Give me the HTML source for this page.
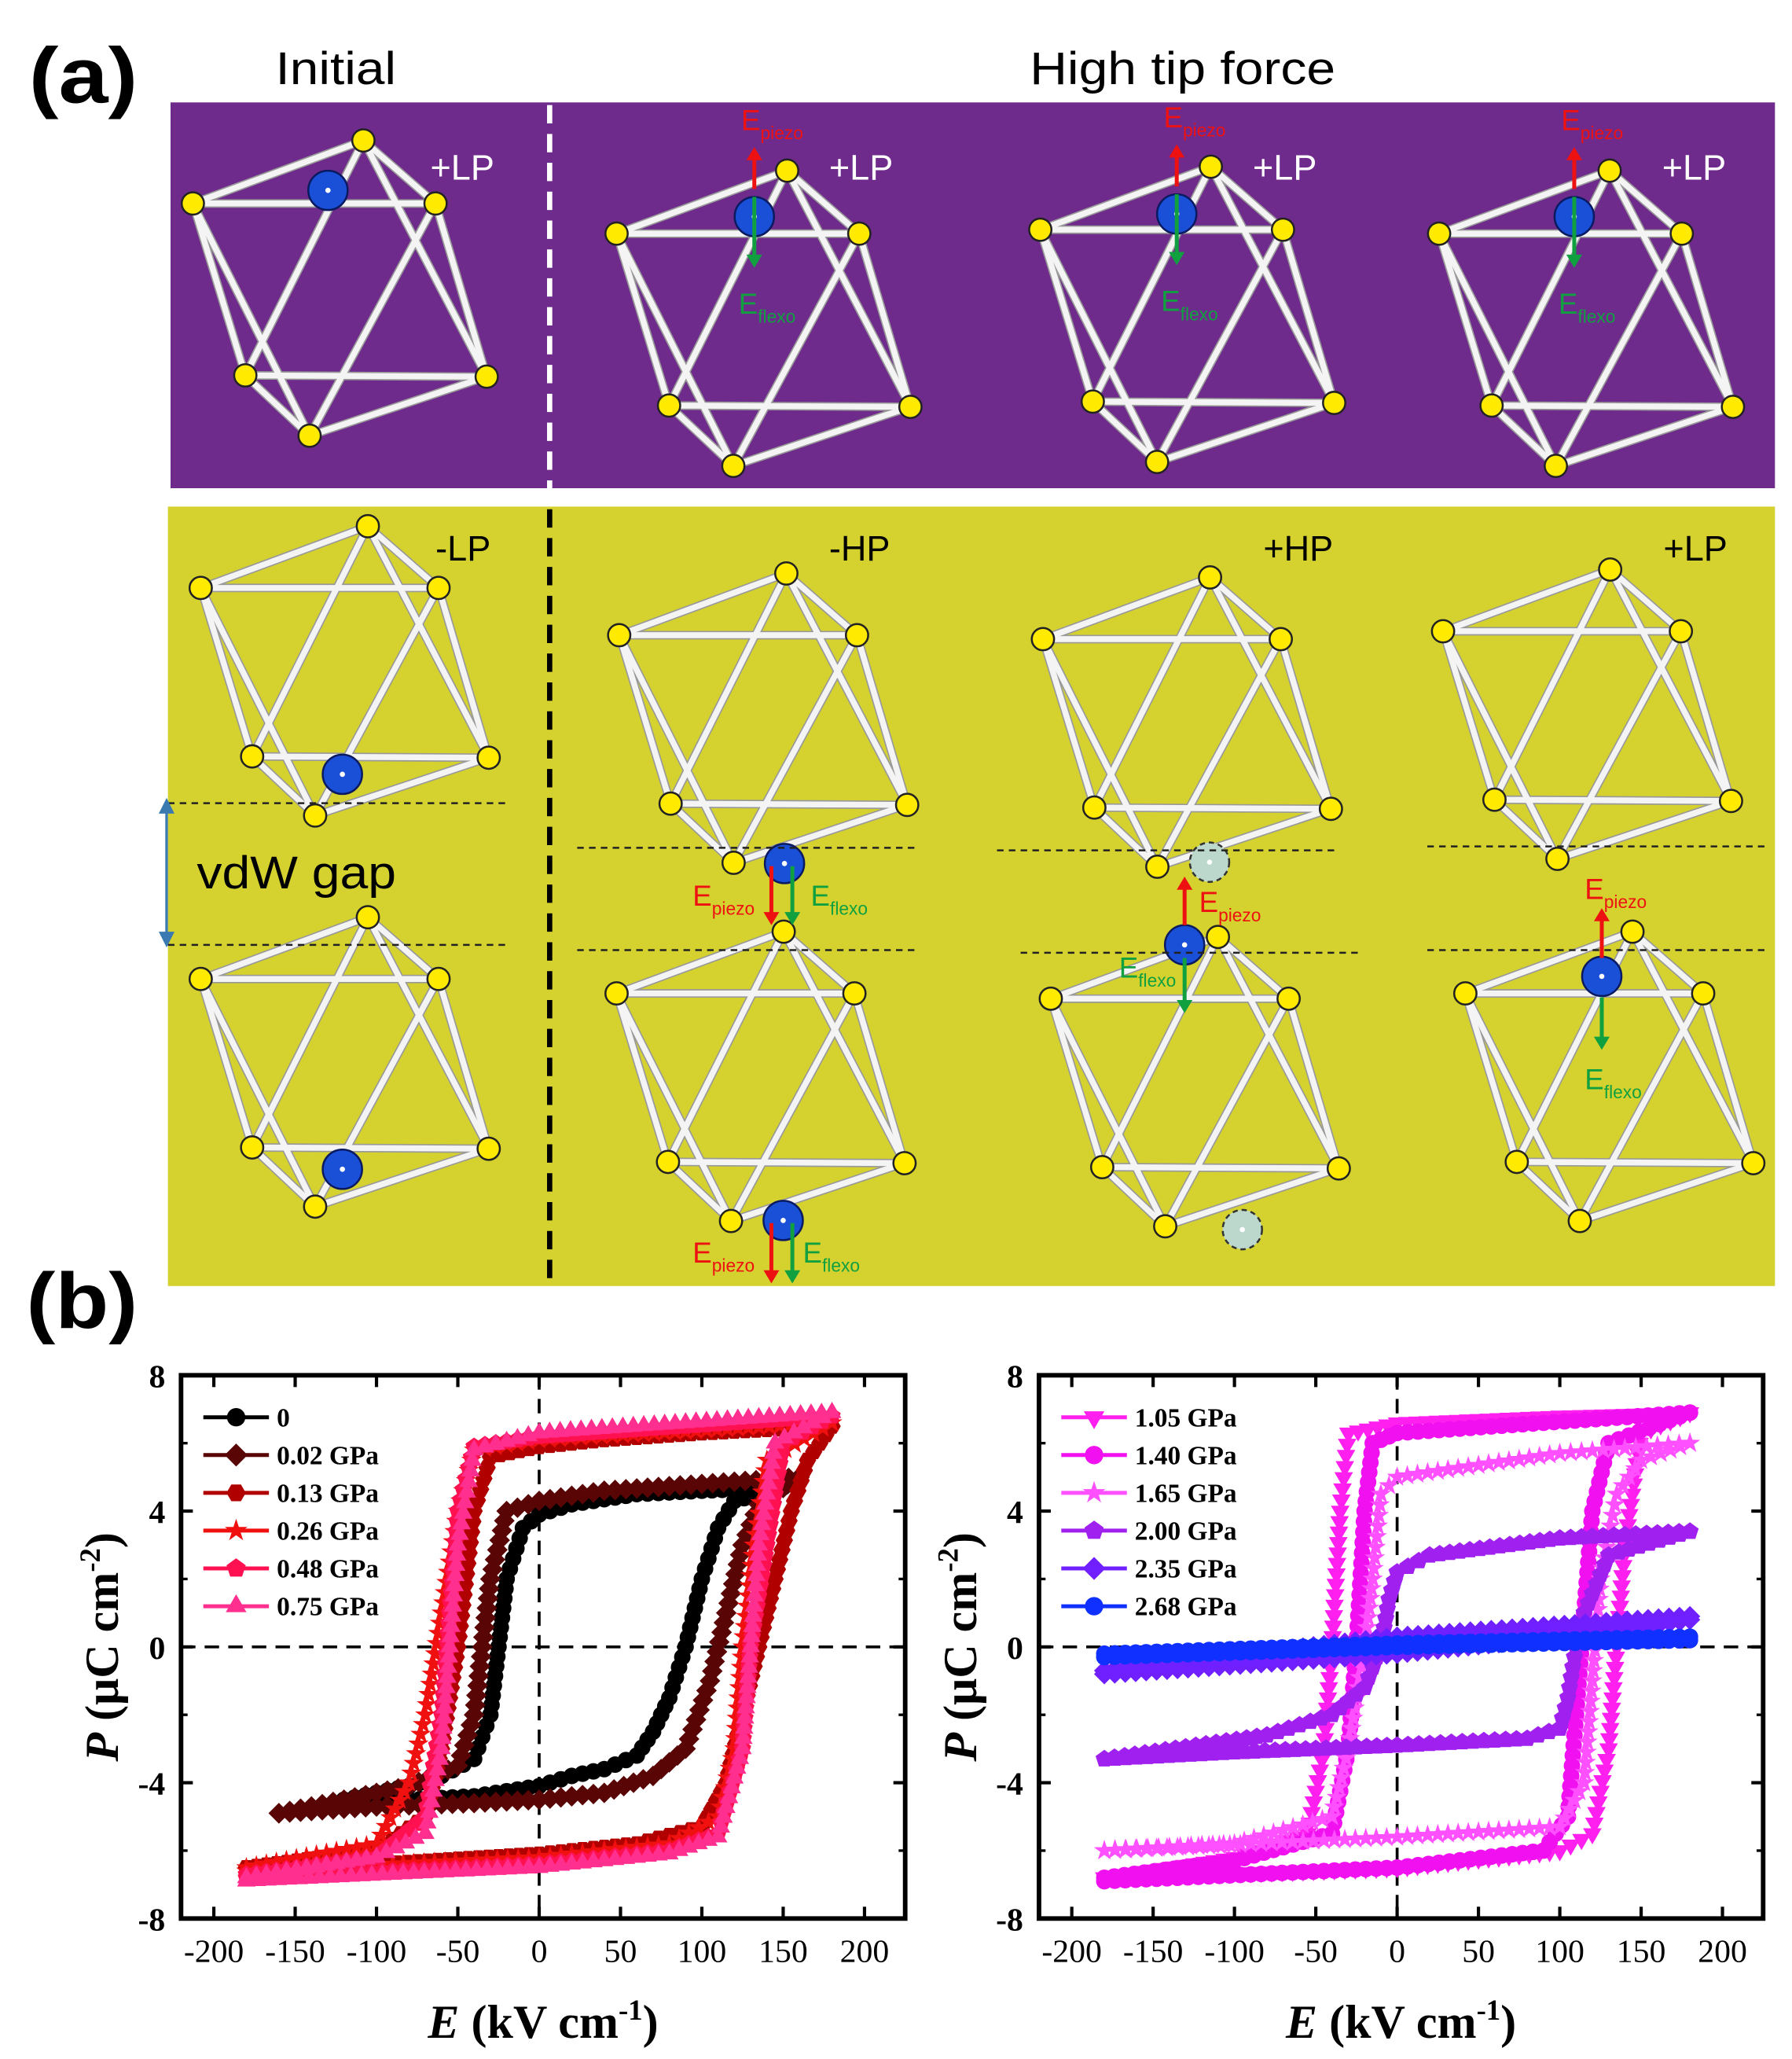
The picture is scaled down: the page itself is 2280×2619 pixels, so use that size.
<!DOCTYPE html>
<html><head><meta charset="utf-8"><style>
html,body{margin:0;padding:0;background:#fff}
svg{display:block}
</style></head><body>
<svg id="fig" width="2280" height="2619" viewBox="0 0 1366 1569" xmlns="http://www.w3.org/2000/svg">
<rect width="1366" height="1569" fill="#fff"/>
<g id="panelA">
<text x="22" y="78" font-family="Liberation Sans, sans-serif" font-weight="bold" font-size="60" textLength="83" lengthAdjust="spacingAndGlyphs">(a)</text>
<text x="210" y="64" font-family="Liberation Sans, sans-serif" font-size="35" textLength="92" lengthAdjust="spacingAndGlyphs">Initial</text>
<text x="785" y="64" font-family="Liberation Sans, sans-serif" font-size="35" textLength="233" lengthAdjust="spacingAndGlyphs">High tip force</text>
<rect x="130" y="78" width="1223" height="294" fill="#6e2b8c"/>
<rect x="128" y="386" width="1225" height="594" fill="#d5d22f"/>
<line x1="419" y1="80" x2="419" y2="372" stroke="#fff" stroke-width="4" stroke-dasharray="14,8"/>
<line x1="419" y1="388" x2="419" y2="980" stroke="#000" stroke-width="4" stroke-dasharray="14,8"/>
</g>
<g id="panelB">
<text x="20" y="1012" font-family="Liberation Sans, sans-serif" font-weight="bold" font-size="60" textLength="85" lengthAdjust="spacingAndGlyphs">(b)</text>
</g>
</svg>
<script>
// ---------- Chart data ----------
const xTicks = [-200,-150,-100,-50,0,50,100,150,200];
const yTicks = [8,4,0,-4,-8];
const leftNames = ["0","0.02 GPa","0.13 GPa","0.26 GPa","0.48 GPa","0.75 GPa"];
const rightNames = ["1.05 GPa","1.40 GPa","1.65 GPa","2.00 GPa","2.35 GPa","2.68 GPa"];
const L0_eUp=[150,100,60,20,0,-10,-20,-25,-30,-40,-60,-80,-100,-120];
const L0_pUp=[4.7,4.6,4.5,4.2,3.9,3.5,2.0,0,-2.0,-3.3,-3.8,-4.1,-4.3,-4.5];
const L0_eDn=[-120,-80,-40,0,20,40,60,70,80,90,100,110,120,150];
const L0_pDn=[-4.6,-4.5,-4.4,-4.1,-3.8,-3.6,-3.2,-2.5,-1.5,0,2.0,3.5,4.3,4.7];
const L1_eUp=[160,100,40,0,-20,-30,-35,-40,-50,-80,-120,-160];
const L1_pUp=[5.0,4.8,4.6,4.3,4.0,2.0,0,-2.0,-3.5,-4.1,-4.5,-4.9];
const L1_eDn=[-160,-100,-40,0,40,70,90,105,115,125,135,160];
const L1_pDn=[-4.9,-4.7,-4.6,-4.5,-4.3,-3.8,-3.0,-1.0,1.0,3.0,4.2,5.0];
const L2_eUp=[180,100,40,0,-30,-40,-50,-60,-70,-100,-180];
const L2_pUp=[6.5,6.3,6.1,5.9,5.6,4.0,0,-3.0,-5.0,-6.0,-6.5];
const L2_eDn=[-180,-100,0,60,100,115,125,135,145,155,165,180];
const L2_pDn=[-6.5,-6.4,-6.1,-5.8,-5.3,-4.0,-2.0,0,2.0,4.0,5.5,6.5];
const L3_eUp=[180,0,-40,-50,-60,-70,-80,-100,-180];
const L3_pUp=[6.6,6.1,5.8,4.0,1.0,-2.0,-4.0,-5.8,-6.5];
const L3_eDn=[-180,0,80,110,120,125,132,140,180];
const L3_pDn=[-6.6,-6.2,-5.8,-5.0,-3.0,0,3.0,5.5,6.6];
const L4_eUp=[180,0,-40,-50,-55,-60,-70,-100,-180];
const L4_pUp=[6.8,6.2,5.9,4.0,1.0,-2.0,-5.0,-6.2,-6.7];
const L4_eDn=[-180,0,80,110,125,130,140,150,180];
const L4_pDn=[-6.8,-6.4,-6.0,-5.5,-3.0,0,3.0,6.0,6.8];
const L5_eUp=[180,0,-40,-50,-55,-60,-70,-100,-180];
const L5_pUp=[6.9,6.3,5.8,3.0,0,-3.0,-5.5,-6.2,-6.8];
const L5_eDn=[-180,0,80,110,125,130,135,145,180];
const L5_pDn=[-6.9,-6.5,-6.1,-5.6,-3.0,0,3.0,6.0,6.9];
const R0_eUp=[180,100,0,-30,-35,-40,-45,-55,-100,-180];
const R0_pUp=[6.9,6.8,6.6,6.3,4.0,0,-3.0,-5.5,-6.2,-6.8];
const R0_eDn=[-180,0,100,120,130,135,140,150,180];
const R0_pDn=[-6.8,-6.5,-6.0,-5.5,-3.0,0,3.0,6.3,6.9];
const R1_eUp=[180,0,-15,-20,-25,-30,-40,-100,-180];
const R1_pUp=[6.9,6.3,6.0,4.0,0,-3.0,-5.5,-6.3,-6.8];
const R1_eDn=[-180,0,90,105,110,115,120,130,180];
const R1_pDn=[-6.9,-6.5,-6.0,-5.0,-2.0,1.0,4.0,6.0,6.9];
const R2_eUp=[180,100,0,-10,-15,-20,-30,-40,-100,-180];
const R2_pUp=[6.0,5.7,5.0,4.5,2.0,0,-3.0,-5.0,-5.8,-6.0];
const R2_eDn=[-180,0,100,115,120,125,135,150,180];
const R2_pDn=[-6.0,-5.6,-5.3,-4.0,-1.0,2.0,4.5,5.5,6.0];
const R3_eUp=[180,100,20,0,-5,-10,-20,-40,-80,-180];
const R3_pUp=[3.4,3.2,2.7,2.2,1.4,0,-1.2,-2.0,-2.6,-3.3];
const R3_eDn=[-180,-100,0,80,100,105,110,115,130,180];
const R3_pDn=[-3.3,-3.1,-2.9,-2.7,-2.4,-1.5,0,1.0,2.7,3.4];
const R4_eUp=[180,0,-180];
const R4_pUp=[0.9,0.3,-0.7];
const R4_eDn=[-180,0,100,180];
const R4_pDn=[-0.8,-0.2,0.3,0.8];
const R5_eUp=[180,0,-180];
const R5_pUp=[0.3,0.1,-0.2];
const R5_eDn=[-180,0,180];
const R5_pDn=[-0.3,0.0,0.2];

const NS="http://www.w3.org/2000/svg";
const svg=document.getElementById('fig');
function mk(tag,attrs,parent){const e=document.createElementNS(NS,tag);for(const k in attrs)e.setAttribute(k,attrs[k]);(parent||svg).appendChild(e);return e;}

// ---------- Panel (a) illustrations ----------
const pa=document.getElementById('panelA');
const tmpl={T:[130,-48],R:[185,0],BL:[40,131],BR:[224,132],B:[89,177]};
function octa(x,y,s){
  const g=mk('g',{},pa);
  
  
  const P={L:[x,y]};for(const k in tmpl)P[k]=[x+tmpl[k][0]*s,y+tmpl[k][1]*s];
  const edges=[['L','R'],['R','T'],['T','L'],['BL','BR'],['BR','B'],['B','BL'],['L','BL'],['L','B'],['R','B'],['R','BR'],['T','BL'],['T','BR']];
  edges.forEach(e=>{mk('line',{x1:P[e[0]][0],y1:P[e[0]][1],x2:P[e[1]][0],y2:P[e[1]][1],stroke:'#999','stroke-width':6.5},g);});
  edges.forEach(e=>{mk('line',{x1:P[e[0]][0],y1:P[e[0]][1],x2:P[e[1]][0],y2:P[e[1]][1],stroke:'#f4f4f4','stroke-width':4.5},g);});
  for(const k in P)mk('circle',{cx:P[k][0],cy:P[k][1],r:8.5,fill:'#ffea00',stroke:'#222','stroke-width':1.5},g);
}
[[147,155,1],[470,178,1],[793,175,1],[1097,178,1],[153,448,0.98],[472,484,0.98],[795,487,0.98],[1100,481,0.98],[153,746,0.98],[470,757,0.98],[801,761,0.98],[1117,757,0.98]].forEach(o=>octa(o[0],o[1],o[2]));
function ball(x,y,ghost){
  const c=mk('circle',{cx:x,cy:y,r:15,fill:ghost?'#bcd8cc':'#1a4fd8',stroke:ghost?'#333':'#0a1a60','stroke-width':1.5,'stroke-dasharray':ghost?'4,3':'none'},pa);
  
  
  mk('circle',{cx:x,cy:y,r:2,fill:'#fff'},pa);
}
[[250,145],[575,165],[897,163],[1200,165],[261,590],[598,658],[903,720],[1221,744],[261,891],[597,930]].forEach(b=>ball(b[0],b[1],false));
ball(922,657,true);ball(947,937,true);
function arrow(x1,y1,x2,y2,col){
  const g=mk('g',{},pa);
  
  
  const d=y2>y1?1:-1;
  mk('line',{x1:x1,y1:y1,x2:x2,y2:y2-d*8,stroke:col,'stroke-width':3},g);
  mk('polygon',{points:`${x2-6},${y2-d*10} ${x2+6},${y2-d*10} ${x2},${y2}`,fill:col},g);
}
function lab(x,y,main,sub,col,size){
  const t=mk('text',{x:x,y:y,fill:col,'font-family':'Liberation Sans, sans-serif','font-size':size||22},pa);
  
  
  t.textContent=main;
  const s=mk('tspan',{dy:7,'font-size':(size||22)*0.62},t);s.textContent=sub;
}
const RED='#ee1111',GRN='#10a040';
[[575,144],[897,142],[1200,144]].forEach(p=>{arrow(p[0],p[1],p[0],p[1]-32,RED);arrow(p[0],p[1]+6,p[0],p[1]+60,GRN);lab(p[0]-10,p[1]-45,'E','piezo',RED);lab(p[0]-12,p[1]+95,'E','flexo',GRN);});
arrow(588,660,588,705,RED);arrow(604,660,604,705,GRN);lab(528,690,'E','piezo',RED);lab(618,690,'E','flexo',GRN);
arrow(588,932,588,978,RED);arrow(604,932,604,978,GRN);lab(528,962,'E','piezo',RED);lab(612,962,'E','flexo',GRN);
arrow(903,705,903,668,RED);arrow(903,730,903,772,GRN);lab(914,695,'E','piezo',RED);lab(853,745,'E','flexo',GRN);
arrow(1221,730,1221,692,RED);arrow(1221,760,1221,800,GRN);lab(1208,685,'E','piezo',RED);lab(1208,830,'E','flexo',GRN);
[[128,388,612],[128,388,720],[440,698,646],[440,698,724],[760,1018,648],[778,1036,726],[1088,1346,645],[1088,1346,724]].forEach(l=>{
  const e=mk('line',{x1:l[0],y1:l[2],x2:l[1],y2:l[2],stroke:'#222','stroke-width':1.5,'stroke-dasharray':'5,4'},pa);
  
  
});
const ga=mk('g',{},pa);


mk('line',{x1:127,y1:618,x2:127,y2:712,stroke:'#3a7ab0','stroke-width':2},ga);
mk('polygon',{points:'121,620 133,620 127,608',fill:'#3a7ab0'},ga);
mk('polygon',{points:'121,710 133,710 127,722',fill:'#3a7ab0'},ga);
const vg=mk('text',{x:150,y:677,'font-family':'Liberation Sans, sans-serif','font-size':35,textLength:152,lengthAdjust:'spacingAndGlyphs'},pa);


vg.textContent='vdW gap';
[[328,137,'+LP','#fff'],[632,137,'+LP','#fff'],[955,137,'+LP','#fff'],[1267,137,'+LP','#fff'],[332,427,'-LP','#000'],[632,427,'-HP','#000'],[963,427,'+HP','#000'],[1268,427,'+LP','#000']].forEach(s=>{
  const t=mk('text',{x:s[0],y:s[1],fill:s[3],'font-family':'Liberation Sans, sans-serif','font-size':27},pa);
  
  
  t.textContent=s[2];
});

// ---------- Panel (b) charts ----------
const pb=document.getElementById('panelB');
function marker(g,shape,x,y,col,r){
  let pts=[];
  const poly=(n,rot,rr)=>{for(let i=0;i<n;i++){const a=rot+i*2*Math.PI/n;pts.push([x+rr*Math.cos(a),y+rr*Math.sin(a)]);}};
  if(shape==='circle'){return mk('circle',{cx:x,cy:y,r:r,fill:col},g);}
  if(shape==='diamond')poly(4,-Math.PI/2,r*1.25);
  if(shape==='hex')poly(6,0,r*1.05);
  if(shape==='pent')poly(5,-Math.PI/2,r*1.1);
  if(shape==='tri')poly(3,-Math.PI/2,r*1.3);
  if(shape==='tridown')poly(3,Math.PI/2,r*1.3);
  if(shape==='star'){for(let i=0;i<10;i++){const a=-Math.PI/2+i*Math.PI/5;const rr=i%2?r*0.5:r*1.3;pts.push([x+rr*Math.cos(a),y+rr*Math.sin(a)]);}}
  return mk('polygon',{points:pts.map(p=>p.join(',')).join(' '),fill:col},g);
}
function chart(ox,names,series,tag){
  const x0=ox, x1=ox+552, yTop=1048, yBot=1462;
  const zx=ox+273;
  const sx=v=>zx+v*1.24;
  const sy=v=>1255-v*25.875;
  const g=mk('g',{},pb);
  
  
  const hz=mk('line',{x1:x0,y1:sy(0),x2:x1,y2:sy(0),stroke:'#000','stroke-width':2.2,'stroke-dasharray':'11,7'},g);
  
  
  const vz=mk('line',{x1:sx(0),y1:yTop,x2:sx(0),y2:yBot,stroke:'#000','stroke-width':2.2,'stroke-dasharray':'11,7'},g);
  
  
  series.forEach((s,si)=>{
    const sg=mk('g',{},g);
    
    
    [[s.eUp,s.pUp],[s.eDn,s.pDn]].forEach(br=>{
      const pts=br[0].map((e,i)=>[sx(e),sy(br[1][i])]);
      mk('polyline',{points:pts.map(p=>p.join(',')).join(' '),fill:'none',stroke:s.col,'stroke-width':1.8},sg);
      for(let i=0;i<pts.length-1;i++){
        const dx=pts[i+1][0]-pts[i][0],dy=pts[i+1][1]-pts[i][1];
        const n=Math.max(1,Math.round(Math.hypot(dx,dy)/8));
        for(let k=0;k<n;k++)marker(sg,s.shape,pts[i][0]+dx*k/n,pts[i][1]+dy*k/n,s.col,6.3);
      }
      const last=pts[pts.length-1];marker(sg,s.shape,last[0],last[1],s.col,6.3);
    });
  });
  const fr=mk('rect',{x:x0,y:yTop,width:x1-x0,height:yBot-yTop,fill:'none',stroke:'#000','stroke-width':3.5},g);
  
  
  xTicks.forEach(t=>{
    const x=sx(t);
    mk('line',{x1:x,y1:yBot,x2:x,y2:yBot-9,stroke:'#000','stroke-width':2.5},g);
    mk('line',{x1:x,y1:yTop,x2:x,y2:yTop+9,stroke:'#000','stroke-width':2.5},g);
    const tl=mk('text',{x:x,y:yBot+33,'text-anchor':'middle','font-family':'Liberation Serif, serif','font-size':25},g);
    
    
    tl.textContent=t;
  });
  yTicks.forEach(t=>{
    const y=sy(t);
    mk('line',{x1:x0,y1:y,x2:x0+9,y2:y,stroke:'#000','stroke-width':2.5},g);
    mk('line',{x1:x1,y1:y,x2:x1-9,y2:y,stroke:'#000','stroke-width':2.5},g);
    const tl=mk('text',{x:x0-12,y:y+9,'text-anchor':'end','font-family':'Liberation Serif, serif','font-weight':'bold','font-size':25},g);
    
    
    tl.textContent=t;
  });
  [6,2,-2,-6].forEach(t=>{const y=sy(t);mk('line',{x1:x0,y1:y,x2:x0+5,y2:y,stroke:'#000','stroke-width':2},g);mk('line',{x1:x1,y1:y,x2:x1-5,y2:y,stroke:'#000','stroke-width':2},g);});
  const xt=mk('text',{x:(x0+x1)/2,y:1553,'text-anchor':'middle','font-family':'Liberation Serif, serif','font-weight':'bold','font-size':36},g);
  
  
  xt.innerHTML='<tspan font-style="italic">E</tspan> (kV cm<tspan dy="-14" font-size="22">-1</tspan><tspan dy="14">)</tspan>';
  const yt=mk('text',{x:0,y:0,'text-anchor':'middle','font-family':'Liberation Serif, serif','font-weight':'bold','font-size':36,transform:`translate(${x0-48},1255) rotate(-90)`},g);
  
  
  yt.innerHTML='<tspan font-style="italic">P</tspan> (μC cm<tspan dy="-14" font-size="22">-2</tspan><tspan dy="14">)</tspan>';
  const lg=mk('g',{},g);
  
  
  names.forEach((n,i)=>{
    const y=1080+i*28.8;
    const e=mk('g',{},lg);
    
    
    mk('line',{x1:x0+17,y1:y,x2:x0+67,y2:y,stroke:series[i].col,'stroke-width':3},e);
    marker(e,series[i].shape,x0+42,y,series[i].col,7);
    const t=mk('text',{x:x0+73,y:y+7,'font-family':'Liberation Serif, serif','font-weight':'bold','font-size':20},e);
    t.textContent=n;
  });
}
chart(138,leftNames,[
 {eUp:L0_eUp,pUp:L0_pUp,eDn:L0_eDn,pDn:L0_pDn,col:'#000000',shape:'circle'},
 {eUp:L1_eUp,pUp:L1_pUp,eDn:L1_eDn,pDn:L1_pDn,col:'#5a0505',shape:'diamond'},
 {eUp:L2_eUp,pUp:L2_pUp,eDn:L2_eDn,pDn:L2_pDn,col:'#b00000',shape:'hex'},
 {eUp:L3_eUp,pUp:L3_pUp,eDn:L3_eDn,pDn:L3_pDn,col:'#f01010',shape:'star'},
 {eUp:L4_eUp,pUp:L4_pUp,eDn:L4_eDn,pDn:L4_pDn,col:'#ff1050',shape:'pent'},
 {eUp:L5_eUp,pUp:L5_pUp,eDn:L5_eDn,pDn:L5_pDn,col:'#ff2f8f',shape:'tri'}
],'left-chart');
chart(792,rightNames,[
 {eUp:R0_eUp,pUp:R0_pUp,eDn:R0_eDn,pDn:R0_pDn,col:'#ff20f0',shape:'tridown'},
 {eUp:R1_eUp,pUp:R1_pUp,eDn:R1_eDn,pDn:R1_pDn,col:'#f010f0',shape:'circle'},
 {eUp:R2_eUp,pUp:R2_pUp,eDn:R2_eDn,pDn:R2_pDn,col:'#ff50ff',shape:'star'},
 {eUp:R3_eUp,pUp:R3_pUp,eDn:R3_eDn,pDn:R3_pDn,col:'#a020f0',shape:'pent'},
 {eUp:R4_eUp,pUp:R4_pUp,eDn:R4_eDn,pDn:R4_pDn,col:'#7020ff',shape:'diamond'},
 {eUp:R5_eUp,pUp:R5_pUp,eDn:R5_eDn,pDn:R5_pDn,col:'#1030ff',shape:'circle'}
],'right-chart');
</script>
</body></html>
